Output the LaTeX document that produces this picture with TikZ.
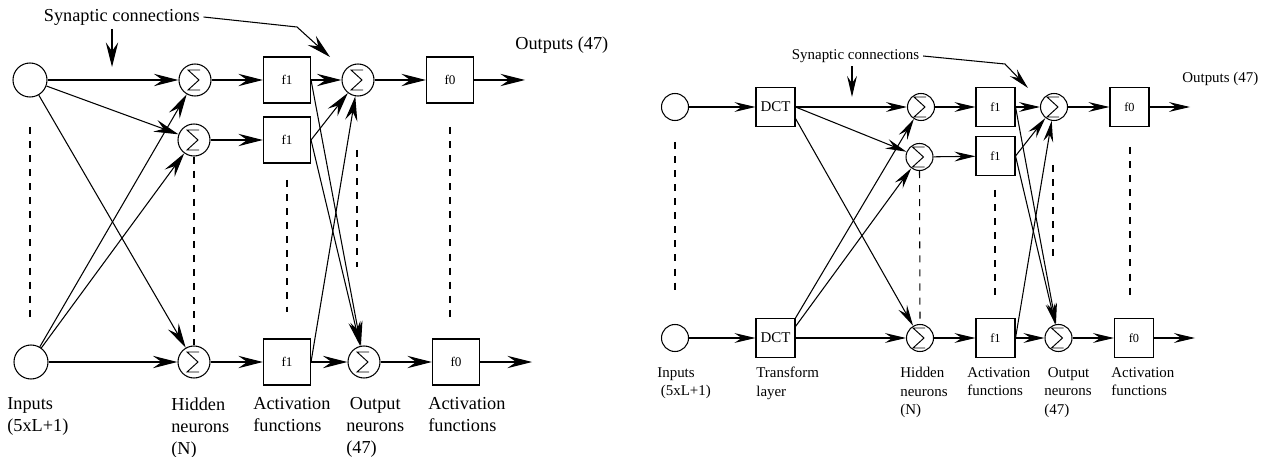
\documentclass[tikz,border=0pt]{standalone}
\usepackage{fontspec}
\setmainfont{Liberation Serif}
\newfontfamily\figfont{Liberation Serif}
\usetikzlibrary{arrows.meta}
% sigma drawn inside a summing node, #1 = scale
\newcommand{\sigmapath}[1]{%
  \draw[line width=0.55pt,shift={(path picture bounding box.center)},scale=#1]
    (5,-10) -- (-7,-10) -- (4,0) -- (-7,10) -- (5,10);}
\tikzset{
  unitL/.style={circle,draw,line width=0.6pt,minimum size=6.8mm,inner sep=0pt},
  unitR/.style={unitL,minimum size=5.4mm},
  sumL/.style={circle,draw,line width=0.6pt,minimum size=6.4mm,inner sep=0pt,path picture={\sigmapath{1}}},
  sumR/.style={circle,draw,line width=0.6pt,minimum size=5.4mm,inner sep=0pt,path picture={\sigmapath{0.82}}},
  actL/.style={draw,line width=0.6pt,minimum width=9.4mm,minimum height=9.2mm,inner sep=0pt,font=\figfont\fontsize{7.5}{9}\selectfont},
  actR/.style={draw,line width=0.6pt,minimum size=7.8mm,inner sep=0pt,font=\figfont\fontsize{7}{8}\selectfont},
  lblL/.style={anchor=north west,inner sep=0pt,align=left,font=\figfont\fontsize{10.4}{12.6}\selectfont},
  lblR/.style={anchor=north west,inner sep=0pt,align=left,font=\figfont\fontsize{8.5}{10.5}\selectfont},
  arr/.style={-{Stealth[length=14pt,width=7pt,inset=5pt]},line width=0.6pt},
  arrs/.style={-{Stealth[length=12pt,width=5.6pt,inset=4.2pt]},line width=0.6pt},
  dcol/.style={line width=0.6pt,dash pattern=on 4pt off 4pt},
}

\begin{document}
\begin{tikzpicture}[x=0.2mm,y=-0.2mm]
\useasboundingbox (0,0) rectangle (1266,457);

% ---------- plain network ----------
\node[unitL] (inA) at (30,80) {};
\node[unitL] (inB) at (31,362) {};
\node[sumL] (hA) at (195,80) {};
\node[sumL] (hB) at (194,140) {};
\node[sumL] (hC) at (194,362) {};
\node[actL] (fA) at (287,80) {f1};
\node[actL] (fB) at (287,140) {f1};
\node[actL] (fC) at (287,362) {f1};
\node[sumL] (oA) at (358,80) {};
\node[sumL] (oB) at (364,362) {};
\node[actL] (gA) at (450,80) {f0};
\node[actL] (gB) at (456,362) {f0};
\coordinate (outA) at (525,80);
\coordinate (outB) at (532,362);

\draw[arr] (inA) -- (hA);
\draw[arr] (inA) -- (hB);
\draw[arr] (inA) -- (hC);
\draw[arr] (inB) -- (hA);
\draw[arr] (inB) -- (hB);
\draw[arr] (inB) -- (hC);
\draw[arr] (hA) -- (fA);
\draw[arr] (hB) -- (fB);
\draw[arr] (hC) -- (fC);
\draw[arr] (fA.east) -- (oA);
\draw[arr] (fB.east) -- (oA);
\draw[arr] (fC.east) -- (oA);
\draw[arr] (fA.east) -- (oB);
\draw[arr] (fB.east) -- (oB);
\draw[arr] (fC.east) -- (oB);
\draw[arr] (oA) -- (gA);
\draw[arr] (oB) -- (gB);
\draw[arr] (gA) -- (outA);
\draw[arr] (gB) -- (outB);

% dashed columns
\draw[dcol] (30,127) -- (30,317);
\draw[dcol] (hB.south) -- (hC.north);
\draw[dcol] (287,180) -- (287,312);
\draw[dcol] (357,150) -- (357,267);
\draw[dcol] (450,127) -- (450,317);

% texts
\node[lblL,anchor=west,inner sep=2pt] (synL) at (40,17) {Synaptic connections};
\coordinate (synLt) at (112,67);
\coordinate (synLb) at (297,27);
\coordinate (synLc) at (330,57);
\draw[arr] (synL.south -| synLt) -- (synLt);
\draw[arr] (synL.east) -- (synLb) -- (synLc);
\node[lblL,anchor=west] (outsL) at (515,45) {Outputs (47)};
\node[lblL] (lin) at (7,397) {Inputs\\(5xL+1)};
\node[lblL] (lhid) at (171,397) {Hidden\\neurons\\(N)};
\node[lblL] (lact) at (253,397) {Activation\\functions};
\node[lblL] (lout) at (346,397) {\hspace*{2pt}Output\\neurons\\(47)};
\node[lblL] (lact2) at (428,397) {Activation\\functions};

% ---------- network with transform layer ----------
\node[unitR] (rinA) at (675,107) {};
\node[unitR] (rinB) at (675,338) {};
\node[actR,font=\figfont\fontsize{8.5}{10}\selectfont] (rdA) at (775.5,107) {DCT};
\node[actR,font=\figfont\fontsize{8.5}{10}\selectfont] (rdB) at (775.5,338) {DCT};
\node[sumR] (rhA) at (921,107) {};
\node[sumR] (rhB) at (919.5,157) {};
\node[sumR] (rhC) at (920,338) {};
\node[actR] (rfA) at (995.5,107) {f1};
\node[actR] (rfB) at (995.5,156) {f1};
\node[actR] (rfC) at (995.5,338) {f1};
\node[sumR] (roA) at (1054,107) {};
\node[sumR] (roB) at (1058.5,338) {};
\node[actR] (rgA) at (1129.5,107) {f0};
\node[actR] (rgB) at (1134,338) {f0};
\coordinate (routA) at (1190,107);
\coordinate (routB) at (1195,338);

\draw[arrs] (rinA) -- (rdA);
\draw[arrs] (rinB) -- (rdB);
\draw[arrs] (rdA.east) -- (rhA);
\draw[arrs] (rdA.east) -- (rhB);
\draw[arrs] (rdA.-30) -- (rhC);
\draw[arrs] (rdB.north east) -- (rhA);
\draw[arrs] (rdB.30) -- (rhB);
\draw[arrs] (rdB.east) -- (rhC);
\draw[arrs] (rhA) -- (rfA);
\draw[arrs] (rhB) -- (rfB);
\draw[arrs] (rhC) -- (rfC);
\draw[arrs] (rfA.east) -- (roA);
\draw[arrs] (rfB.east) -- (roA);
\draw[arrs] (rfC.east) -- (roA);
\draw[arrs] (rfA.east) -- (roB);
\draw[arrs] (rfB.east) -- (roB);
\draw[arrs] (rfC.east) -- (roB);
\draw[arrs] (roA) -- (rgA);
\draw[arrs] (roB) -- (rgB);
\draw[arrs] (rgA) -- (routA);
\draw[arrs] (rgB) -- (routB);

% dashed columns
\draw[dcol] (675,142) -- (675,295);
\draw[dcol] (rhB.south) -- (rhC.north);
\draw[dcol] (995,190) -- (995,298);
\draw[dcol] (1053,165) -- (1053,260);
\draw[dcol] (1130,147) -- (1130,300);

% texts
\node[lblR,anchor=west,inner sep=2pt] (rsyn) at (788,56) {Synaptic connections};
\coordinate (rsynt) at (852,97);
\coordinate (rsynb) at (1005,64);
\coordinate (rsync) at (1028,88);
\draw[arrs] (rsyn.south -| rsynt) -- (rsynt);
\draw[arrs] (rsyn.east) -- (rsynb) -- (rsync);
\node[lblR,anchor=west] (routs) at (1182,79) {Outputs (47)};
\node[lblR] (rlin) at (657,367) {Inputs\\\hspace*{2pt}(5xL+1)};
\node[lblR] (rltr) at (756,367) {Transform\\layer};
\node[lblR] (rlhid) at (900,367) {Hidden\\neurons\\(N)};
\node[lblR] (rlact) at (967,367) {Activation\\functions};
\node[lblR] (rlout) at (1044,367) {\hspace*{2pt}Output\\neurons\\(47)};
\node[lblR] (rlact2) at (1111,367) {Activation\\functions};
\end{tikzpicture}
\end{document}
